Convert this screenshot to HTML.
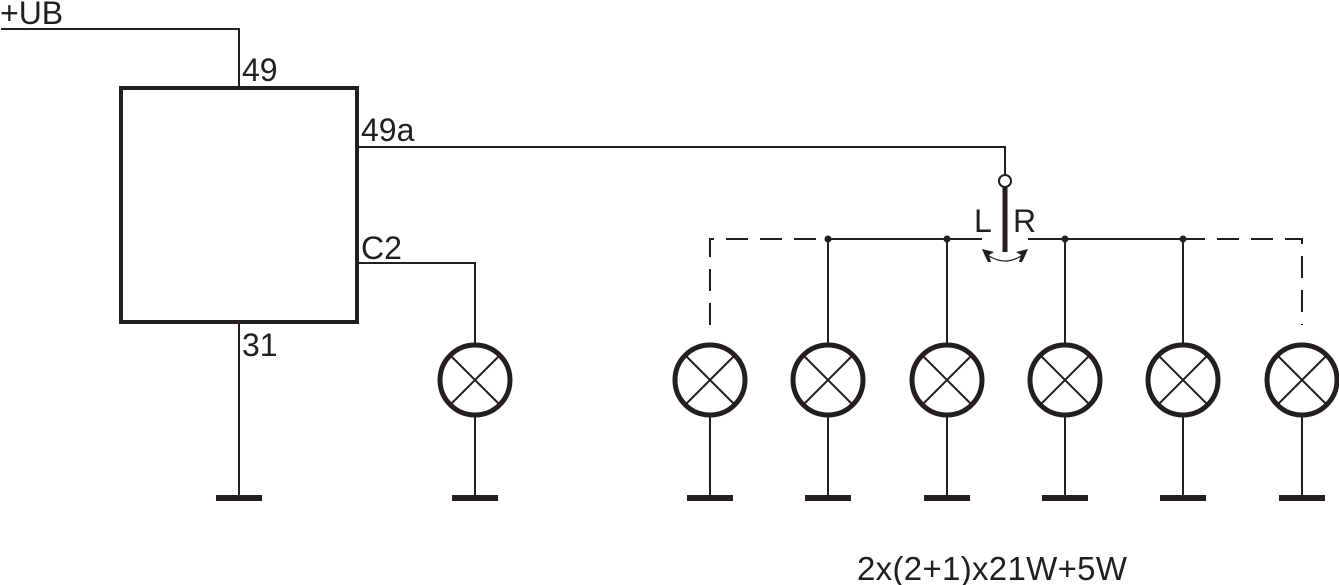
<!DOCTYPE html>
<html><head><style>
html,body{margin:0;padding:0;background:#fff;}
svg{display:block;}
text{font-family:"Liberation Sans",sans-serif;font-size:32px;fill:#231f20;}
</style></head><body>
<svg width="1339" height="585" viewBox="0 0 1339 585" xmlns="http://www.w3.org/2000/svg">
<g stroke="#231f20" fill="none" stroke-width="2">
<polyline points="1,29 239,29 239,87"/>
<polyline points="358,147 1005,147 1005,176"/>
<polyline points="358,263 475,263 475,345"/>
<line x1="239" y1="322" x2="239" y2="496"/>
<line x1="475" y1="415" x2="475" y2="496"/>
<rect x="121" y="88" width="236" height="234" stroke-width="4"/>
<circle cx="1005" cy="181" r="6" stroke-width="2"/>
<line x1="1005" y1="187" x2="1005" y2="252" stroke-width="5"/>
<line x1="828" y1="239" x2="982" y2="239"/>
<line x1="1028" y1="239" x2="1183" y2="239"/>
<polyline points="710,325 710,239 828,239" stroke-dasharray="22,12"/>
<polyline points="1183,239 1302,239 1302,325" stroke-dasharray="22,12"/>
<path d="M989,256 Q1005,266 1021,256" stroke-width="1.2"/>
</g>
<g fill="#231f20">
<path d="M982,249 L994,252 L989,255 L991,262 L988,262 L985,256 Z"/>
<path d="M1028,249 L1016,252 L1021,255 L1019,262 L1022,262 L1025,256 Z"/>
<circle cx="828" cy="239" r="3.5"/><circle cx="947" cy="239" r="3.5"/>
<circle cx="1065" cy="239" r="3.5"/><circle cx="1183" cy="239" r="3.5"/>
<rect x="216" y="495" width="46" height="6"/>
<rect x="452" y="495" width="46" height="6"/>
</g>
<g stroke="#231f20" fill="none">
<circle cx="475" cy="380" r="35" stroke-width="5"/>
<path d="M450,355 L500,405 M500,355 L450,405" stroke-width="2"/>
<g transform="translate(235,0)"><circle cx="475" cy="380" r="35" stroke-width="5"/><path d="M450,355 L500,405 M500,355 L450,405 M475,415 L475,496" stroke-width="2"/></g>
<g transform="translate(353,0)"><line x1="475" y1="239" x2="475" y2="345" stroke-width="2"/><circle cx="475" cy="380" r="35" stroke-width="5"/><path d="M450,355 L500,405 M500,355 L450,405 M475,415 L475,496" stroke-width="2"/></g>
<g transform="translate(472,0)"><line x1="475" y1="239" x2="475" y2="345" stroke-width="2"/><circle cx="475" cy="380" r="35" stroke-width="5"/><path d="M450,355 L500,405 M500,355 L450,405 M475,415 L475,496" stroke-width="2"/></g>
<g transform="translate(590,0)"><line x1="475" y1="239" x2="475" y2="345" stroke-width="2"/><circle cx="475" cy="380" r="35" stroke-width="5"/><path d="M450,355 L500,405 M500,355 L450,405 M475,415 L475,496" stroke-width="2"/></g>
<g transform="translate(708,0)"><line x1="475" y1="239" x2="475" y2="345" stroke-width="2"/><circle cx="475" cy="380" r="35" stroke-width="5"/><path d="M450,355 L500,405 M500,355 L450,405 M475,415 L475,496" stroke-width="2"/></g>
<g transform="translate(827,0)"><circle cx="475" cy="380" r="35" stroke-width="5"/><path d="M450,355 L500,405 M500,355 L450,405 M475,415 L475,496" stroke-width="2"/></g>
</g>
<g fill="#231f20">
<rect x="687" y="495" width="46" height="6"/><rect x="805" y="495" width="46" height="6"/>
<rect x="924" y="495" width="46" height="6"/><rect x="1042" y="495" width="46" height="6"/>
<rect x="1160" y="495" width="46" height="6"/><rect x="1279" y="495" width="46" height="6"/>
</g>
<text x="0" y="24">+UB</text>
<text x="242" y="81">49</text>
<text x="361" y="141">49a</text>
<text x="361" y="259">C2</text>
<text x="242" y="356">31</text>
<text x="974" y="232">L</text>
<text x="1013" y="232">R</text>
<text x="857" y="580" style="font-size:33px" textLength="270">2x(2+1)x21W+5W</text>
</svg>
</body></html>
